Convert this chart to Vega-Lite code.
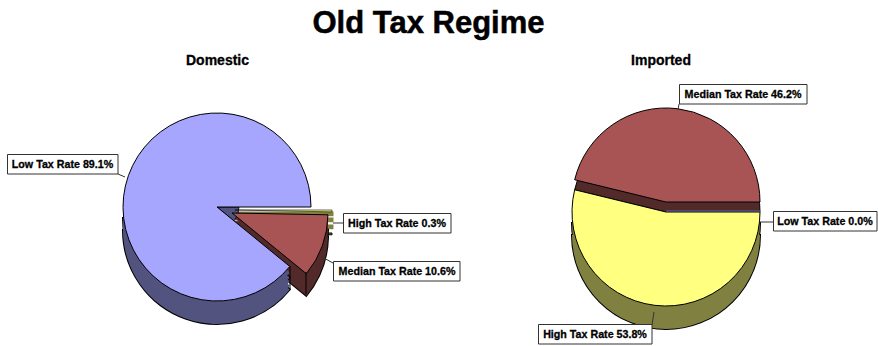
{
  "$schema": "https://vega.github.io/schema/vega-lite/v6.json",
  "width": 878, "height": 346, "padding": 0, "autosize": "none",
  "background": "white",
  "config": {"view": {"stroke": null}, "text": {"font": "Liberation Sans", "fontWeight": "bold", "fontSize": 10.7, "color": "black", "stroke": "black", "strokeWidth": 0.3}},
  "data": {"values": [
    {"pie": "Domestic", "rate": "High Tax Rate", "share": 0.3, "seq": 1, "label": "High Tax Rate 0.3%"},
    {"pie": "Domestic", "rate": "Median Tax Rate", "share": 10.6, "seq": 2, "label": "Median Tax Rate 10.6%"},
    {"pie": "Domestic", "rate": "Low Tax Rate", "share": 89.1, "seq": 3, "label": "Low Tax Rate 89.1%"},
    {"pie": "Imported", "rate": "Low Tax Rate", "share": 0.0, "seq": 1, "label": "Low Tax Rate 0.0%"},
    {"pie": "Imported", "rate": "High Tax Rate", "share": 53.8, "seq": 2, "label": "High Tax Rate 53.8%"},
    {"pie": "Imported", "rate": "Median Tax Rate", "share": 46.2, "seq": 3, "label": "Median Tax Rate 46.2%"}
  ]},
  "transform": [{"stack": "share", "groupby": ["pie"], "sort": [{"field": "seq"}], "as": ["a0", "a1"]}],
  "layer": [
    {"transform": [{"filter": "datum.label=='High Tax Rate 0.3%'"}], "mark": {"type": "arc", "radius": 97, "fill": "#808040", "stroke": "black", "strokeWidth": 1}, "encoding": {"x": {"datum": 235, "type": "quantitative", "scale": {"domain": [0, 878], "range": [0, 878], "nice": false, "zero": false}, "axis": null}, "y": {"datum": 233, "type": "quantitative", "scale": {"domain": [0, 346], "range": [0, 346], "nice": false, "zero": false}, "axis": null}, "theta": {"field": "a0", "type": "quantitative", "stack": null, "scale": {"domain": [0, 100], "range": [1.5708, 7.854]}}, "theta2": {"field": "a1"}}},
    {"transform": [{"filter": "datum.label=='High Tax Rate 0.3%'"}], "mark": {"type": "arc", "radius": 97, "fill": "#808040", "stroke": "#808040", "strokeWidth": 3}, "encoding": {"x": {"datum": 235, "type": "quantitative"}, "y": {"datum": 226, "type": "quantitative"}, "theta": {"field": "a0", "type": "quantitative", "stack": null, "scale": {"domain": [0, 100], "range": [1.5708, 7.854]}}, "theta2": {"field": "a1"}}},
    {"transform": [{"filter": "datum.label=='High Tax Rate 0.3%'"}], "mark": {"type": "arc", "radius": 97, "fill": "#808040", "stroke": "#808040", "strokeWidth": 3}, "encoding": {"x": {"datum": 235, "type": "quantitative"}, "y": {"datum": 219, "type": "quantitative"}, "theta": {"field": "a0", "type": "quantitative", "stack": null, "scale": {"domain": [0, 100], "range": [1.5708, 7.854]}}, "theta2": {"field": "a1"}}},
    {"transform": [{"filter": "datum.label=='High Tax Rate 0.3%'"}], "mark": {"type": "arc", "radius": 97, "fill": "#808040", "stroke": "#808040", "strokeWidth": 3}, "encoding": {"x": {"datum": 235, "type": "quantitative"}, "y": {"datum": 213, "type": "quantitative"}, "theta": {"field": "a0", "type": "quantitative", "stack": null, "scale": {"domain": [0, 100], "range": [1.5708, 7.854]}}, "theta2": {"field": "a1"}}},

    {"transform": [{"filter": "datum.label=='Median Tax Rate 10.6%'"}], "mark": {"type": "arc", "radius": 96, "fill": "black", "stroke": "black", "strokeWidth": 2}, "encoding": {"x": {"datum": 232, "type": "quantitative"}, "y": {"datum": 235, "type": "quantitative"}, "theta": {"field": "a0", "type": "quantitative", "stack": null, "scale": {"domain": [0, 100], "range": [1.5708, 7.854]}}, "theta2": {"field": "a1"}}},
    {"transform": [{"filter": "datum.label=='Median Tax Rate 10.6%'"}], "mark": {"type": "arc", "radius": 96, "fill": "black", "stroke": "black", "strokeWidth": 2}, "encoding": {"x": {"datum": 232, "type": "quantitative"}, "y": {"datum": 228, "type": "quantitative"}, "theta": {"field": "a0", "type": "quantitative", "stack": null, "scale": {"domain": [0, 100], "range": [1.5708, 7.854]}}, "theta2": {"field": "a1"}}},
    {"transform": [{"filter": "datum.label=='Median Tax Rate 10.6%'"}], "mark": {"type": "arc", "radius": 96, "fill": "#532A2A"}, "encoding": {"x": {"datum": 232, "type": "quantitative"}, "y": {"datum": 235, "type": "quantitative"}, "theta": {"field": "a0", "type": "quantitative", "stack": null, "scale": {"domain": [0, 100], "range": [1.5708, 7.854]}}, "theta2": {"field": "a1"}}},
    {"transform": [{"filter": "datum.label=='Median Tax Rate 10.6%'"}], "mark": {"type": "arc", "radius": 96, "fill": "#532A2A"}, "encoding": {"x": {"datum": 232, "type": "quantitative"}, "y": {"datum": 228, "type": "quantitative"}, "theta": {"field": "a0", "type": "quantitative", "stack": null, "scale": {"domain": [0, 100], "range": [1.5708, 7.854]}}, "theta2": {"field": "a1"}}},
    {"transform": [{"filter": "datum.label=='Median Tax Rate 10.6%'"}], "mark": {"type": "arc", "radius": 96, "fill": "#532A2A"}, "encoding": {"x": {"datum": 232, "type": "quantitative"}, "y": {"datum": 221, "type": "quantitative"}, "theta": {"field": "a0", "type": "quantitative", "stack": null, "scale": {"domain": [0, 100], "range": [1.5708, 7.854]}}, "theta2": {"field": "a1"}}},
    {"transform": [{"filter": "datum.label=='Median Tax Rate 10.6%'"}], "mark": {"type": "arc", "radius": 96, "fill": "#532A2A"}, "encoding": {"x": {"datum": 232, "type": "quantitative"}, "y": {"datum": 216, "type": "quantitative"}, "theta": {"field": "a0", "type": "quantitative", "stack": null, "scale": {"domain": [0, 100], "range": [1.5708, 7.854]}}, "theta2": {"field": "a1"}}},

    {"transform": [{"filter": "datum.label=='Low Tax Rate 89.1%'"}], "mark": {"type": "arc", "radius": 22, "theta": 1.5708, "theta2": 2.2557, "fill": "#53537F", "stroke": "black", "strokeWidth": 0.8}, "encoding": {"x": {"datum": 217, "type": "quantitative"}, "y": {"datum": 207, "type": "quantitative"}}},
    {"transform": [{"filter": "datum.label=='Low Tax Rate 89.1%'"}], "mark": {"type": "arc", "radius": 94, "theta": 2.2557, "theta2": 4.7124, "fill": "black", "stroke": "black", "strokeWidth": 2}, "encoding": {"x": {"datum": 217, "type": "quantitative"}, "y": {"datum": 230, "type": "quantitative"}}},
    {"transform": [{"filter": "datum.label=='Low Tax Rate 89.1%'"}], "mark": {"type": "arc", "radius": 94, "theta": 2.2557, "theta2": 4.7124, "fill": "black", "stroke": "black", "strokeWidth": 2}, "encoding": {"x": {"datum": 217, "type": "quantitative"}, "y": {"datum": 218, "type": "quantitative"}}},
    {"transform": [{"filter": "datum.label=='Low Tax Rate 89.1%'"}], "mark": {"type": "arc", "radius": 94, "theta": 2.2557, "theta2": 4.7124, "fill": "#53537F"}, "encoding": {"x": {"datum": 217, "type": "quantitative"}, "y": {"datum": 230, "type": "quantitative"}}},
    {"transform": [{"filter": "datum.label=='Low Tax Rate 89.1%'"}], "mark": {"type": "arc", "radius": 94, "theta": 2.2557, "theta2": 4.7124, "fill": "#53537F"}, "encoding": {"x": {"datum": 217, "type": "quantitative"}, "y": {"datum": 226, "type": "quantitative"}}},
    {"transform": [{"filter": "datum.label=='Low Tax Rate 89.1%'"}], "mark": {"type": "arc", "radius": 94, "theta": 2.2557, "theta2": 4.7124, "fill": "#53537F"}, "encoding": {"x": {"datum": 217, "type": "quantitative"}, "y": {"datum": 222, "type": "quantitative"}}},
    {"transform": [{"filter": "datum.label=='Low Tax Rate 89.1%'"}], "mark": {"type": "arc", "radius": 94, "theta": 2.2557, "theta2": 4.7124, "fill": "#53537F"}, "encoding": {"x": {"datum": 217, "type": "quantitative"}, "y": {"datum": 218, "type": "quantitative"}}},
    {"transform": [{"filter": "datum.label=='Low Tax Rate 89.1%'"}], "mark": {"type": "arc", "radius": 94, "theta": 2.2557, "theta2": 4.7124, "fill": "#53537F"}, "encoding": {"x": {"datum": 217, "type": "quantitative"}, "y": {"datum": 213, "type": "quantitative"}}},
    {"mark": {"type": "rule", "color": "black", "strokeWidth": 1}, "transform": [{"filter": "datum.label=='Low Tax Rate 89.1%'"}], "encoding": {"x": {"datum": 290, "type": "quantitative"}, "x2": {"datum": 290}, "y": {"datum": 266, "type": "quantitative"}, "y2": {"datum": 289}}},
    {"transform": [{"filter": "datum.label=='Low Tax Rate 89.1%'"}], "mark": {"type": "arc", "radius": 94, "fill": "#A6A6FF", "stroke": "black", "strokeWidth": 1}, "encoding": {"x": {"datum": 217, "type": "quantitative"}, "y": {"datum": 207, "type": "quantitative"}, "theta": {"field": "a0", "type": "quantitative", "stack": null, "scale": {"domain": [0, 100], "range": [1.5708, 7.854]}}, "theta2": {"field": "a1"}}},
    {"transform": [{"filter": "datum.label=='High Tax Rate 0.3%'"}], "mark": {"type": "arc", "radius": 97, "fill": "#FFFF80", "stroke": "black", "strokeWidth": 0.6}, "encoding": {"x": {"datum": 235, "type": "quantitative"}, "y": {"datum": 210, "type": "quantitative"}, "theta": {"field": "a0", "type": "quantitative", "stack": null, "scale": {"domain": [0, 100], "range": [1.5708, 7.854]}}, "theta2": {"field": "a1"}}},
    {"transform": [{"filter": "datum.label=='Median Tax Rate 10.6%'"}], "mark": {"type": "arc", "radius": 96, "fill": "#A85454", "stroke": "black", "strokeWidth": 1}, "encoding": {"x": {"datum": 232, "type": "quantitative"}, "y": {"datum": 213, "type": "quantitative"}, "theta": {"field": "a0", "type": "quantitative", "stack": null, "scale": {"domain": [0, 100], "range": [1.5708, 7.854]}}, "theta2": {"field": "a1"}}},

    {"transform": [{"filter": "datum.label=='High Tax Rate 53.8%'"}], "mark": {"type": "arc", "radius": 94, "theta": 1.5708, "theta2": 4.7124, "fill": "black", "stroke": "black", "strokeWidth": 2}, "encoding": {"x": {"datum": 666, "type": "quantitative"}, "y": {"datum": 235, "type": "quantitative"}}},
    {"transform": [{"filter": "datum.label=='High Tax Rate 53.8%'"}], "mark": {"type": "arc", "radius": 94, "theta": 1.5708, "theta2": 4.7124, "fill": "black", "stroke": "black", "strokeWidth": 2}, "encoding": {"x": {"datum": 666, "type": "quantitative"}, "y": {"datum": 223, "type": "quantitative"}}},
    {"transform": [{"filter": "datum.label=='High Tax Rate 53.8%'"}], "mark": {"type": "arc", "radius": 94, "theta": 1.5708, "theta2": 4.7124, "fill": "#808040"}, "encoding": {"x": {"datum": 666, "type": "quantitative"}, "y": {"datum": 235, "type": "quantitative"}}},
    {"transform": [{"filter": "datum.label=='High Tax Rate 53.8%'"}], "mark": {"type": "arc", "radius": 94, "theta": 1.5708, "theta2": 4.7124, "fill": "#808040"}, "encoding": {"x": {"datum": 666, "type": "quantitative"}, "y": {"datum": 223, "type": "quantitative"}}},
    {"transform": [{"filter": "datum.label=='Median Tax Rate 46.2%'"}], "mark": {"type": "arc", "radius": 94, "fill": "#532A2A", "stroke": "black", "strokeWidth": 1}, "encoding": {"x": {"datum": 666, "type": "quantitative"}, "y": {"datum": 212, "type": "quantitative"}, "theta": {"field": "a0", "type": "quantitative", "stack": null, "scale": {"domain": [0, 100], "range": [1.5708, 7.854]}}, "theta2": {"field": "a1"}}},
    {"transform": [{"filter": "datum.label=='Median Tax Rate 46.2%'"}], "mark": {"type": "arc", "radius": 94, "fill": "#A85454", "stroke": "black", "strokeWidth": 1}, "encoding": {"x": {"datum": 666, "type": "quantitative"}, "y": {"datum": 202, "type": "quantitative"}, "theta": {"field": "a0", "type": "quantitative", "stack": null, "scale": {"domain": [0, 100], "range": [1.5708, 7.854]}}, "theta2": {"field": "a1"}}},
    {"transform": [{"filter": "datum.label=='High Tax Rate 53.8%'"}], "mark": {"type": "arc", "radius": 94, "fill": "#FFFF80", "stroke": "black", "strokeWidth": 1}, "encoding": {"x": {"datum": 666, "type": "quantitative"}, "y": {"datum": 212, "type": "quantitative"}, "theta": {"field": "a0", "type": "quantitative", "stack": null, "scale": {"domain": [0, 100], "range": [1.5708, 7.854]}}, "theta2": {"field": "a1"}}},
    {"transform": [{"filter": "datum.label=='Low Tax Rate 0.0%'"}], "mark": {"type": "arc", "radius": 94, "fill": "#A6A6FF", "stroke": "#53537F", "strokeWidth": 1.5}, "encoding": {"x": {"datum": 666, "type": "quantitative"}, "y": {"datum": 211, "type": "quantitative"}, "theta": {"field": "a0", "type": "quantitative", "stack": null, "scale": {"domain": [0, 100], "range": [1.5708, 7.854]}}, "theta2": {"field": "a1"}}},

    {"mark": {"type": "rule", "color": "black", "strokeWidth": 1}, "transform": [{"filter": "datum.label=='Median Tax Rate 10.6%'"}], "encoding": {"x": {"datum": 306, "type": "quantitative"}, "x2": {"datum": 306}, "y": {"datum": 272, "type": "quantitative"}, "y2": {"datum": 294}}},
    {"mark": {"type": "rule", "color": "#333", "strokeWidth": 1}, "transform": [{"filter": "datum.label=='Low Tax Rate 89.1%'"}], "encoding": {"x": {"datum": 118, "type": "quantitative"}, "x2": {"datum": 125}, "y": {"datum": 174, "type": "quantitative"}, "y2": {"datum": 177}}},
    {"mark": {"type": "rule", "color": "#333", "strokeWidth": 1}, "transform": [{"filter": "datum.label=='High Tax Rate 0.3%'"}], "encoding": {"x": {"datum": 333, "type": "quantitative"}, "x2": {"datum": 343}, "y": {"datum": 223, "type": "quantitative"}, "y2": {"datum": 223}}},
    {"mark": {"type": "rule", "color": "#333", "strokeWidth": 1}, "transform": [{"filter": "datum.label=='Median Tax Rate 10.6%'"}], "encoding": {"x": {"datum": 322, "type": "quantitative"}, "x2": {"datum": 333}, "y": {"datum": 257, "type": "quantitative"}, "y2": {"datum": 263}}},
    {"mark": {"type": "rule", "color": "#333", "strokeWidth": 1}, "transform": [{"filter": "datum.label=='Median Tax Rate 46.2%'"}], "encoding": {"x": {"datum": 679, "type": "quantitative"}, "x2": {"datum": 678}, "y": {"datum": 104, "type": "quantitative"}, "y2": {"datum": 110}}},
    {"mark": {"type": "rule", "color": "#333", "strokeWidth": 1}, "transform": [{"filter": "datum.label=='Low Tax Rate 0.0%'"}], "encoding": {"x": {"datum": 760, "type": "quantitative"}, "x2": {"datum": 773}, "y": {"datum": 222, "type": "quantitative"}, "y2": {"datum": 222}}},
    {"mark": {"type": "rule", "color": "#333", "strokeWidth": 1}, "transform": [{"filter": "datum.label=='High Tax Rate 53.8%'"}], "encoding": {"x": {"datum": 652, "type": "quantitative"}, "x2": {"datum": 654}, "y": {"datum": 325, "type": "quantitative"}, "y2": {"datum": 312}}},

    {"mark": {"type": "rect", "fill": "white", "stroke": "#333", "strokeWidth": 1}, "transform": [{"filter": "datum.label=='Low Tax Rate 89.1%'"}], "encoding": {"x": {"datum": 7.5, "type": "quantitative"}, "x2": {"datum": 118}, "y": {"datum": 154.5, "type": "quantitative"}, "y2": {"datum": 174}}},
    {"mark": {"type": "rect", "fill": "white", "stroke": "#333", "strokeWidth": 1}, "transform": [{"filter": "datum.label=='High Tax Rate 0.3%'"}], "encoding": {"x": {"datum": 343.5, "type": "quantitative"}, "x2": {"datum": 451}, "y": {"datum": 213.5, "type": "quantitative"}, "y2": {"datum": 233}}},
    {"mark": {"type": "rect", "fill": "white", "stroke": "#333", "strokeWidth": 1}, "transform": [{"filter": "datum.label=='Median Tax Rate 10.6%'"}], "encoding": {"x": {"datum": 333.5, "type": "quantitative"}, "x2": {"datum": 460}, "y": {"datum": 261.5, "type": "quantitative"}, "y2": {"datum": 281}}},
    {"mark": {"type": "rect", "fill": "white", "stroke": "#333", "strokeWidth": 1}, "transform": [{"filter": "datum.label=='Median Tax Rate 46.2%'"}], "encoding": {"x": {"datum": 679.5, "type": "quantitative"}, "x2": {"datum": 807}, "y": {"datum": 84.5, "type": "quantitative"}, "y2": {"datum": 104}}},
    {"mark": {"type": "rect", "fill": "white", "stroke": "#333", "strokeWidth": 1}, "transform": [{"filter": "datum.label=='Low Tax Rate 0.0%'"}], "encoding": {"x": {"datum": 773.5, "type": "quantitative"}, "x2": {"datum": 877}, "y": {"datum": 211.5, "type": "quantitative"}, "y2": {"datum": 231}}},
    {"mark": {"type": "rect", "fill": "white", "stroke": "#333", "strokeWidth": 1}, "transform": [{"filter": "datum.label=='High Tax Rate 53.8%'"}], "encoding": {"x": {"datum": 538.5, "type": "quantitative"}, "x2": {"datum": 652}, "y": {"datum": 324.5, "type": "quantitative"}, "y2": {"datum": 344}}},

    {"mark": {"type": "text", "align": "center", "baseline": "middle"}, "transform": [{"filter": "datum.label=='Low Tax Rate 89.1%'"}], "encoding": {"x": {"datum": 62.5, "type": "quantitative"}, "y": {"datum": 165, "type": "quantitative"}, "text": {"field": "label"}}},
    {"mark": {"type": "text", "align": "center", "baseline": "middle"}, "transform": [{"filter": "datum.label=='High Tax Rate 0.3%'"}], "encoding": {"x": {"datum": 397, "type": "quantitative"}, "y": {"datum": 224, "type": "quantitative"}, "text": {"field": "label"}}},
    {"mark": {"type": "text", "align": "center", "baseline": "middle"}, "transform": [{"filter": "datum.label=='Median Tax Rate 10.6%'"}], "encoding": {"x": {"datum": 397, "type": "quantitative"}, "y": {"datum": 272, "type": "quantitative"}, "text": {"field": "label"}}},
    {"mark": {"type": "text", "align": "center", "baseline": "middle"}, "transform": [{"filter": "datum.label=='Median Tax Rate 46.2%'"}], "encoding": {"x": {"datum": 743, "type": "quantitative"}, "y": {"datum": 95, "type": "quantitative"}, "text": {"field": "label"}}},
    {"mark": {"type": "text", "align": "center", "baseline": "middle"}, "transform": [{"filter": "datum.label=='Low Tax Rate 0.0%'"}], "encoding": {"x": {"datum": 825, "type": "quantitative"}, "y": {"datum": 222, "type": "quantitative"}, "text": {"field": "label"}}},
    {"mark": {"type": "text", "align": "center", "baseline": "middle"}, "transform": [{"filter": "datum.label=='High Tax Rate 53.8%'"}], "encoding": {"x": {"datum": 595, "type": "quantitative"}, "y": {"datum": 335, "type": "quantitative"}, "text": {"field": "label"}}},

    {"mark": {"type": "text", "align": "center", "baseline": "middle", "fontSize": 14}, "transform": [{"filter": "datum.label=='Low Tax Rate 89.1%'"}], "encoding": {"x": {"datum": 217.5, "type": "quantitative"}, "y": {"datum": 61, "type": "quantitative"}, "text": {"field": "pie"}}},
    {"mark": {"type": "text", "align": "center", "baseline": "middle", "fontSize": 14}, "transform": [{"filter": "datum.label=='Low Tax Rate 0.0%'"}], "encoding": {"x": {"datum": 661, "type": "quantitative"}, "y": {"datum": 61, "type": "quantitative"}, "text": {"field": "pie"}}},
    {"mark": {"type": "text", "align": "center", "baseline": "alphabetic", "fontSize": 31, "strokeWidth": 0.5}, "transform": [{"filter": "datum.label=='Low Tax Rate 89.1%'"}], "encoding": {"x": {"datum": 428.5, "type": "quantitative"}, "y": {"datum": 33, "type": "quantitative"}, "text": {"value": "Old Tax Regime"}}}
  ]
}
